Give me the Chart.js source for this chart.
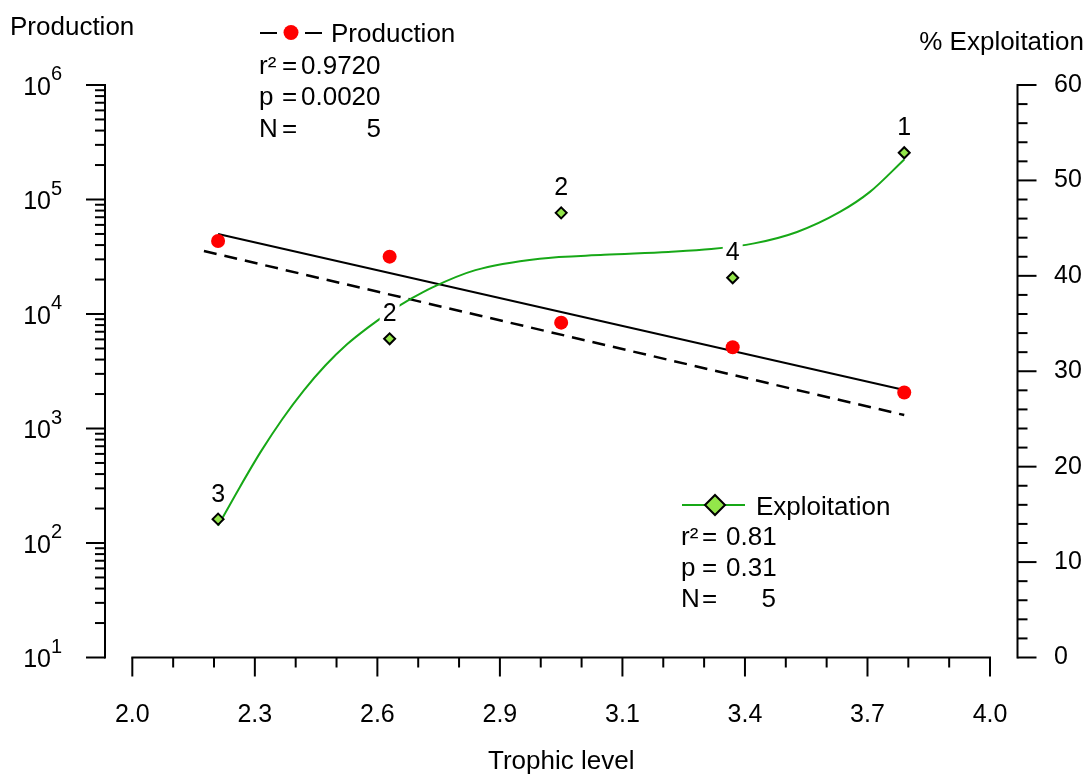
<!DOCTYPE html>
<html>
<head>
<meta charset="utf-8">
<script src="https://cdn.jsdelivr.net/npm/chart.js@4.4.1/dist/chart.umd.min.js"></script>
<style>
html, body { margin: 0; padding: 0; background: #ffffff; }
#wrap { width: 1085px; height: 776px; position: relative; }
</style>
</head>
<body>
<div id="wrap"><canvas id="c"></canvas></div>
<script>
const FONT = '"Liberation Sans", Arial, Helvetica, sans-serif';

// ---- data ----
const trophicLevels = [2.2, 2.6, 3.0, 3.4, 3.8];
const production = [43400, 31700, 8400, 5120, 2060];
const exploitation = [14.5, 33.4, 46.6, 39.8, 52.9];
const sampleCounts = ['3', '2', '2', '4', '1'];

const prodFitX = [2.2, 3.8];
const prodFitY = [50000, 2170];
const prodDashX = [2.167, 3.8];
const prodDashY = [35500, 1310];

const exploitCurveX = [2.2, 2.25, 2.3, 2.35, 2.4, 2.45, 2.5, 2.55, 2.6, 2.65, 2.7, 2.8, 2.95, 3.1, 3.25, 3.35, 3.45, 3.55, 3.65, 3.72, 3.8];
const exploitCurveY = [13.8, 17.8, 21.6, 25.0, 28.0, 30.6, 32.8, 34.6, 36.2, 37.6, 38.8, 40.6, 41.8, 42.2, 42.5, 42.8, 43.4, 44.6, 46.7, 48.8, 52.2];

const xTickLabels = ['2.0', '2.3', '2.6', '2.9', '3.1', '3.4', '3.7', '4.0'];
const leftExponents = ['1', '2', '3', '4', '5', '6'];
const rightTickLabels = ['0', '10', '20', '30', '40', '50', '60'];

const prodLegend = { name: 'Production', r2: '0.9720', p: '0.0020', n: '5' };
const explLegend = { name: 'Exploitation', r2: '0.81', p: '0.31', n: '5' };

const GREEN_LINE = '#17a817';
const GREEN_FILL = '#93e64a';
const TXT = 26;
const TICK = 25;

const pts = (xs, ys) => xs.map((x, i) => ({ x: x, y: ys[i] }));

// ---- decorations: axes lines, tick marks, titles, legends, labels ----
const decor = {
  id: 'decor',
  afterDatasetsDraw(chart) {
    const ctx = chart.ctx;
    const meta = chart.getDatasetMeta(0);
    ctx.save();
    ctx.font = TICK + 'px ' + FONT;
    ctx.textAlign = 'center';
    ctx.textBaseline = 'alphabetic';
    meta.data.forEach((el, i) => {
      const t = sampleCounts[i];
      const w = ctx.measureText(t).width + 6;
      const by = el.y - 17.5;
      ctx.fillStyle = '#ffffff';
      ctx.fillRect(el.x - w / 2, by - 20, w, 23);
      ctx.fillStyle = '#000000';
      ctx.fillText(t, el.x, by);
    });
    ctx.restore();
  },
  afterDraw(chart) {
    const ctx = chart.ctx;
    const a = chart.chartArea;
    const xs = chart.scales.x, yl = chart.scales.yL, yr = chart.scales.yR;
    ctx.save();
    ctx.strokeStyle = '#000';
    ctx.lineWidth = 2;
    ctx.lineCap = 'butt';
    const line = (x1, y1, x2, y2) => { ctx.beginPath(); ctx.moveTo(x1, y1); ctx.lineTo(x2, y2); ctx.stroke(); };

    // left log axis
    const L = a.left;
    line(L, yl.getPixelForValue(1e6) - 1, L, yl.getPixelForValue(10) + 1);
    yl.ticks.forEach(t => {
      const y = yl.getPixelForValue(t.value);
      const lg = Math.log10(t.value);
      const major = Math.abs(lg - Math.round(lg)) < 1e-9;
      line(L - (major ? 19 : 10), y, L, y);
    });
    // right axis
    const R = a.right;
    line(R, yr.getPixelForValue(60) - 1, R, yr.getPixelForValue(0) + 1);
    yr.ticks.forEach(t => {
      const y = yr.getPixelForValue(t.value);
      const major = Math.round(t.value) % 10 === 0;
      line(R, y, R + (major ? 19 : 10), y);
    });
    // x axis
    const B = a.bottom;
    line(xs.getPixelForValue(2) - 1, B, xs.getPixelForValue(4) + 1, B);
    xs.ticks.forEach((t, k) => {
      const x = xs.getPixelForValue(t.value);
      line(x, B, x, B + (k % 3 === 0 ? 19 : 10));
    });

    // left tick labels 10^n
    ctx.fillStyle = '#000';
    ctx.textBaseline = 'alphabetic';
    leftExponents.forEach(e => {
      const y = yl.getPixelForValue(Math.pow(10, Number(e)));
      ctx.font = TICK + 'px ' + FONT;
      ctx.textAlign = 'right';
      ctx.fillText('10', 51, y + 9.5);
      ctx.font = '20px ' + FONT;
      ctx.textAlign = 'left';
      ctx.fillText(e, 51, y - 5);
    });

    // axis titles
    ctx.font = TXT + 'px ' + FONT;
    ctx.textAlign = 'left';
    ctx.fillText('Production', 10, 35);
    ctx.textAlign = 'right';
    ctx.fillText('% Exploitation', 1084, 50);

    // production legend
    ctx.textAlign = 'left';
    line(260, 33, 277, 33);
    line(305, 33, 322, 33);
    ctx.fillStyle = '#ff0000';
    ctx.beginPath(); ctx.arc(291, 32.5, 7.5, 0, Math.PI * 2); ctx.fill();
    ctx.fillStyle = '#000';
    ctx.font = TXT + 'px ' + FONT;
    ctx.fillText(prodLegend.name, 331, 41.5);
    const stats = (x0, xEq, xVal, yb, sp, obj, nRight) => {
      ctx.textAlign = 'left';
      ctx.fillText('r\u00B2', x0, yb);
      ctx.fillText('=', xEq, yb);
      ctx.fillText(obj.r2, xVal, yb);
      ctx.fillText('p', x0, yb + sp);
      ctx.fillText('=', xEq, yb + sp);
      ctx.fillText(obj.p, xVal, yb + sp);
      ctx.fillText('N', x0, yb + 2 * sp);
      ctx.fillText('=', xEq, yb + 2 * sp);
      ctx.textAlign = 'right';
      ctx.fillText(obj.n, nRight, yb + 2 * sp);
    };
    stats(259, 282, 301, 73.5, 31.6, prodLegend, 381);

    // exploitation legend
    ctx.strokeStyle = GREEN_LINE;
    line(682, 505, 745, 505);
    ctx.beginPath();
    ctx.moveTo(715 - 10, 505); ctx.lineTo(715, 495); ctx.lineTo(715 + 10, 505); ctx.lineTo(715, 515); ctx.closePath();
    ctx.fillStyle = GREEN_FILL; ctx.fill();
    ctx.strokeStyle = '#000'; ctx.lineWidth = 2; ctx.stroke();
    ctx.fillStyle = '#000';
    ctx.textAlign = 'left';
    ctx.fillText(explLegend.name, 756, 515);
    stats(681, 702, 726, 545, 31.2, explLegend, 776);

    ctx.restore();
  }
};

const cfg = {
  type: 'scatter',
  data: {
    datasets: [
      {
        label: 'Exploitation points',
        data: pts(trophicLevels, exploitation),
        yAxisID: 'yR',
        pointStyle: 'rectRot',
        pointRadius: 5.5,
        backgroundColor: GREEN_FILL,
        borderColor: '#000',
        borderWidth: 2,
        showLine: false,
        order: 0
      },
      {
        label: 'Production',
        data: pts(trophicLevels, production),
        yAxisID: 'yL',
        pointStyle: 'circle',
        pointRadius: 7,
        backgroundColor: '#ff0000',
        borderWidth: 0,
        showLine: false,
        order: 1
      },
      {
        label: 'Exploitation fit',
        data: pts(exploitCurveX, exploitCurveY),
        yAxisID: 'yR',
        showLine: true,
        borderColor: GREEN_LINE,
        borderWidth: 2,
        pointRadius: 0,
        cubicInterpolationMode: 'monotone',
        fill: false,
        order: 2
      },
      {
        label: 'Production fit',
        data: pts(prodFitX, prodFitY),
        yAxisID: 'yL',
        showLine: true,
        borderColor: '#000',
        borderWidth: 2,
        pointRadius: 0,
        fill: false,
        order: 3
      },
      {
        label: 'Production reference',
        data: pts(prodDashX, prodDashY),
        yAxisID: 'yL',
        showLine: true,
        borderColor: '#000',
        borderWidth: 2.5,
        borderDash: [13, 8],
        pointRadius: 0,
        fill: false,
        order: 4
      }
    ]
  },
  options: {
    responsive: true,
    maintainAspectRatio: false,
    animation: false,
    events: [],
    layout: { padding: { top: 85, left: 0, right: 0, bottom: 0 } },
    plugins: { legend: { display: false }, tooltip: { enabled: false } },
    scales: {
      x: {
        type: 'linear',
        position: 'bottom',
        min: 1.9363,
        max: 4.0641,
        border: { display: false },
        grid: { display: false, drawTicks: false },
        afterBuildTicks: (s) => {
          const t = [];
          for (let k = 0; k <= 21; k++) t.push({ value: 2 + k * 2 / 21 });
          s.ticks = t;
        },
        afterFit: (s) => { s.height = 118.5; },
        ticks: {
          autoSkip: false,
          maxRotation: 0,
          minRotation: 0,
          padding: 42.5,
          color: '#000',
          font: { family: FONT, size: TICK },
          callback: (v, i) => (i % 3 === 0 ? xTickLabels[i / 3] : '')
        },
        title: {
          display: true,
          text: 'Trophic level',
          color: '#000',
          font: { family: FONT, size: TXT, lineHeight: 1 },
          padding: { top: 0, bottom: 1 }
        }
      },
      yL: {
        type: 'logarithmic',
        position: 'left',
        min: 10,
        max: 1e6,
        border: { display: false },
        grid: { display: false, drawTicks: false },
        afterBuildTicks: (s) => {
          const t = [];
          for (let e = 1; e <= 5; e++) for (let m = 1; m <= 9; m++) t.push({ value: m * Math.pow(10, e) });
          t.push({ value: 1e6 });
          s.ticks = t;
        },
        afterFit: (s) => { s.width = 105; },
        ticks: { display: false }
      },
      yR: {
        type: 'linear',
        position: 'right',
        min: 0,
        max: 60,
        border: { display: false },
        grid: { display: false, drawTicks: false },
        afterBuildTicks: (s) => {
          const t = [];
          for (let v = 0; v <= 60; v += 2) t.push({ value: v });
          s.ticks = t;
        },
        afterFit: (s) => { s.width = 67.5; },
        ticks: {
          autoSkip: false,
          padding: 36.5,
          color: '#000',
          font: { family: FONT, size: TICK },
          callback: (v) => (Math.round(v) % 10 === 0 ? rightTickLabels[Math.round(v) / 10] : '')
        }
      }
    }
  },
  plugins: [decor]
};

new Chart(document.getElementById('c'), cfg);
</script>
</body>
</html>
